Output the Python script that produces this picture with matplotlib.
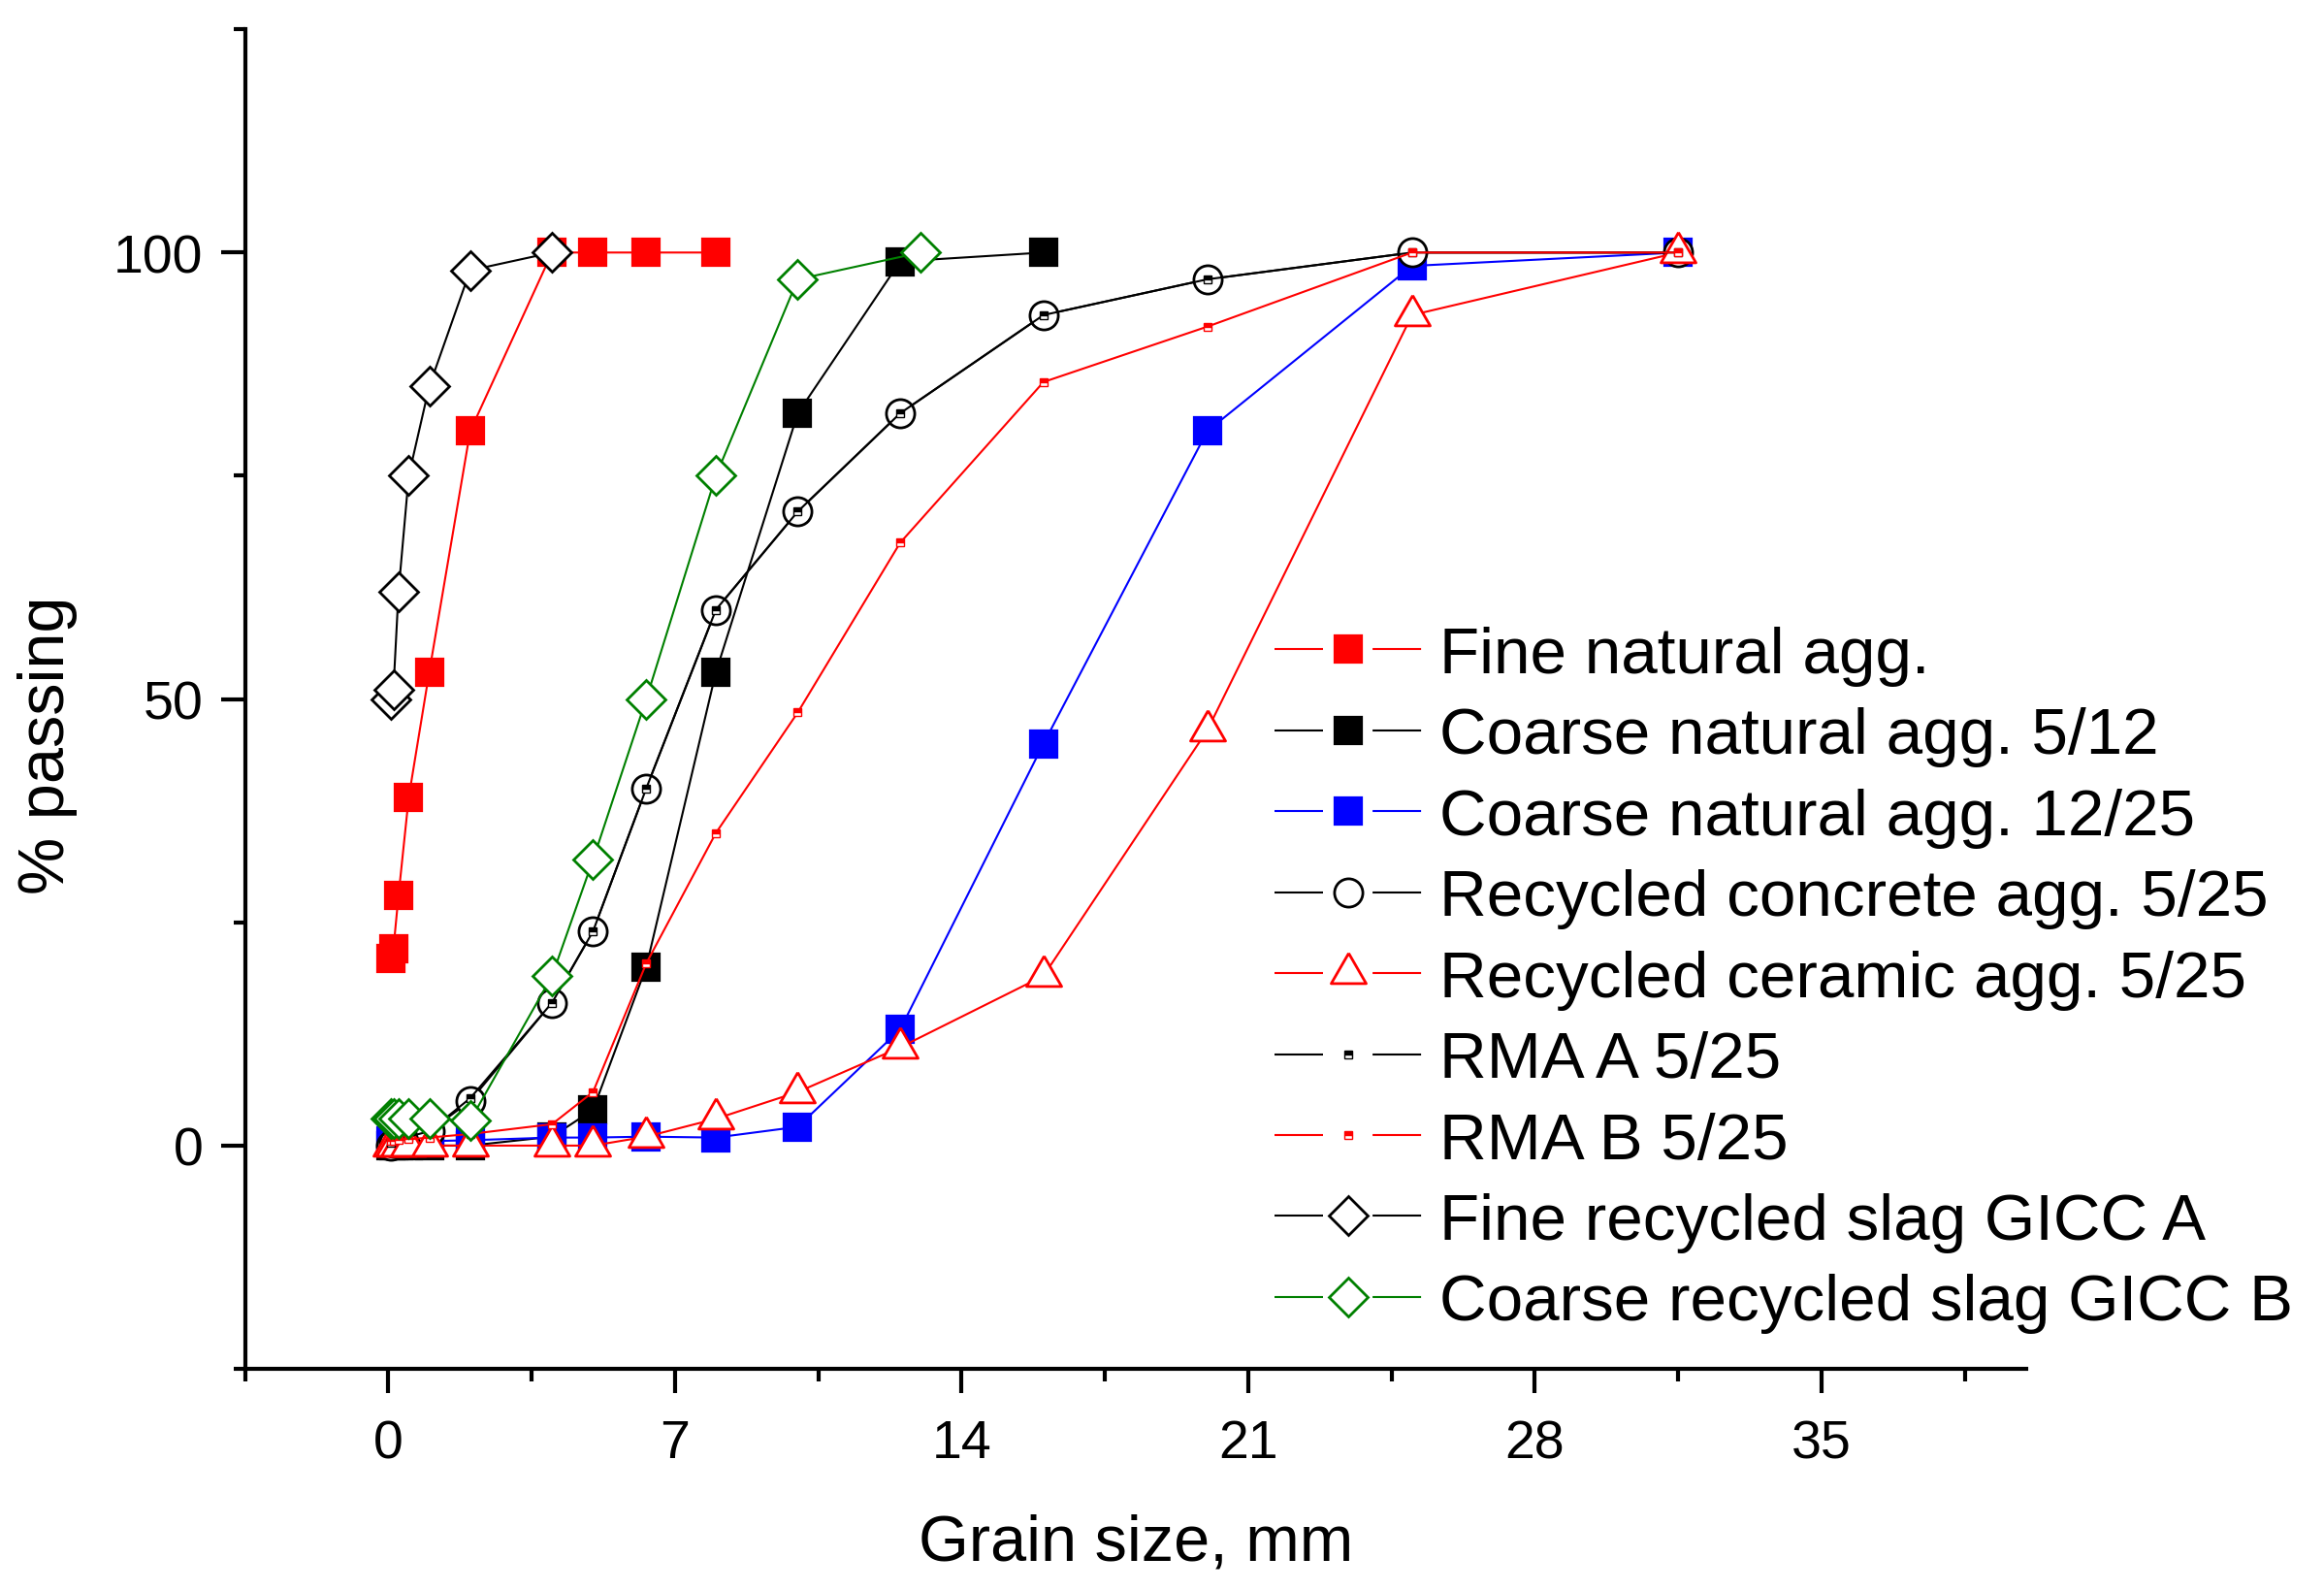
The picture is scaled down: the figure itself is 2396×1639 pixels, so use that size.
import matplotlib
matplotlib.use("Agg")
import matplotlib.pyplot as plt
from matplotlib.lines import Line2D
from matplotlib.ticker import MultipleLocator

plt.rcParams["font.family"] = ["Liberation Sans", "DejaVu Sans"]
plt.rcParams["lines.scale_dashes"] = False

# sieve openings, mm
sieves = [0.063, 0.125, 0.25, 0.5, 1, 2, 4, 5, 6.3, 8, 10, 12.5, 16, 20, 25, 31.5]

fine_natural_x = sieves[:10]
fine_natural_y = [21, 22, 28, 39, 53, 80, 100, 100, 100, 100]

coarse_5_12_x = sieves[:13]
coarse_5_12_y = [0, 0, 0, 0, 0, 0, 1, 4, 20, 53, 82, 99, 100]

coarse_12_25_x = sieves
coarse_12_25_y = [0.5, 0.5, 0.5, 0.5, 0.5, 0.6, 0.9, 0.9, 1.0, 0.9, 2.1, 13, 45, 80, 98.5, 100]

rec_concrete_x = sieves
rec_concrete_y = [0, 0.3, 0.6, 1.0, 1.6, 5, 16, 24, 40, 60, 71, 82, 93, 97, 100, 100]

rec_ceramic_x = sieves
rec_ceramic_y = [0, 0, 0, 0, 0, 0, 0, 0, 1, 3, 6, 11, 19, 46.5, 93, 100]

rma_a_x = sieves
rma_a_y = [0.3, 0.5, 0.8, 1.0, 1.6, 5.3, 16, 24, 40, 60, 71, 82, 93, 97, 100, 100]

rma_b_x = sieves
rma_b_y = [0.5, 0.5, 0.6, 0.7, 0.9, 1.3, 2.4, 6, 20.4, 35, 48.5, 67.5, 85.5, 91.7, 100, 100]

slag_a_x = sieves[:7]
slag_a_y = [50, 51, 62, 75, 85, 98, 100]

slag_b_x = [0.063, 0.125, 0.25, 0.5, 1, 2, 4, 5, 6.3, 8, 10, 13]
slag_b_y = [3, 3, 3, 3, 3, 2.8, 19, 32, 50, 75, 97, 100]

labels = [
    "Fine natural agg.",
    "Coarse natural agg. 5/12",
    "Coarse natural agg. 12/25",
    "Recycled concrete agg. 5/25",
    "Recycled ceramic agg. 5/25",
    "RMA A 5/25",
    "RMA B 5/25",
    "Fine recycled slag GICC A",
    "Coarse recycled slag GICC B",
]

RED = "#ff0000"
BLUE = "#0000ff"
GREEN = "#008000"
BLACK = "#000000"

# equilateral triangle, centred on its centroid
tri = [(0, 1.155), (-1, -0.577), (1, -0.577), (0, 1.155)]

lw = 0.75
styles = [
    dict(color=RED, marker="s", ms=10, mfc=RED, mec=RED, mew=0.8),
    dict(color=BLACK, marker="s", ms=10, mfc=BLACK, mec=BLACK, mew=0.8),
    dict(color=BLUE, marker="s", ms=10, mfc=BLUE, mec=BLUE, mew=0.8),
    dict(color=BLACK, marker="o", ms=10.5, mfc="white", mec=BLACK, mew=1.0),
    dict(color=RED, marker=tri, ms=15, mfc="white", mec=RED, mew=1.0),
    dict(color=BLACK, marker="s", ms=3, fillstyle="top", mfc=BLACK,
         markerfacecoloralt="white", mec=BLACK, mew=0.5),
    dict(color=RED, marker="s", ms=3, fillstyle="top", mfc=RED,
         markerfacecoloralt="white", mec=RED, mew=0.5),
    dict(color=BLACK, marker="D", ms=10, mfc="white", mec=BLACK, mew=1.0),
    dict(color=GREEN, marker="D", ms=10, mfc="white", mec=GREEN, mew=1.0),
]

series = [
    (fine_natural_x, fine_natural_y),
    (coarse_5_12_x, coarse_5_12_y),
    (coarse_12_25_x, coarse_12_25_y),
    (rec_concrete_x, rec_concrete_y),
    (rec_ceramic_x, rec_ceramic_y),
    (rma_a_x, rma_a_y),
    (rma_b_x, rma_b_y),
    (slag_a_x, slag_a_y),
    (slag_b_x, slag_b_y),
]

fig = plt.figure(figsize=(11.98, 8.2), dpi=200)
ax = fig.add_axes([0.1054, 0.139, 0.7665, 0.842])

for (x, y), st in zip(series, styles):
    ax.plot(x, y, lw=lw, **st)

ax.set_xlim(-3.5, 40)
ax.set_ylim(-25, 125)
ax.xaxis.set_major_locator(MultipleLocator(7))
ax.xaxis.set_minor_locator(MultipleLocator(3.5))
ax.yaxis.set_major_locator(MultipleLocator(50))
ax.yaxis.set_minor_locator(MultipleLocator(25))

for side in ["top", "right"]:
    ax.spines[side].set_visible(False)
for side in ["left", "bottom"]:
    ax.spines[side].set_linewidth(1.5)

ax.tick_params(which="major", direction="out", length=9, width=1.5, labelsize=20)
ax.tick_params(which="minor", direction="out", length=4.5, width=1.5)
ax.tick_params(axis="x", which="major", pad=9.5)
ax.tick_params(axis="y", which="major", pad=6.5)

ax.set_xlabel("Grain size, mm", fontsize=24, va="baseline")
ax.xaxis.set_label_coords(0.5, -0.1425)
ax.set_ylabel("% passing", fontsize=24, va="center")
ax.yaxis.set_label_coords(-0.111, 0.466)

# legend handles: line broken around the symbol
handles = [
    Line2D([], [], lw=lw, linestyle=(0, (18, 18.4)), **st) for st in styles
]
ax.legend(handles, labels, loc="upper left", bbox_to_anchor=(0.578, 0.5547),
          frameon=False, fontsize=24.25, numpoints=1, handlelength=2.256,
          handletextpad=0.26, labelspacing=0.318, borderpad=0, borderaxespad=0)

fig.savefig("out.png", dpi=200)
